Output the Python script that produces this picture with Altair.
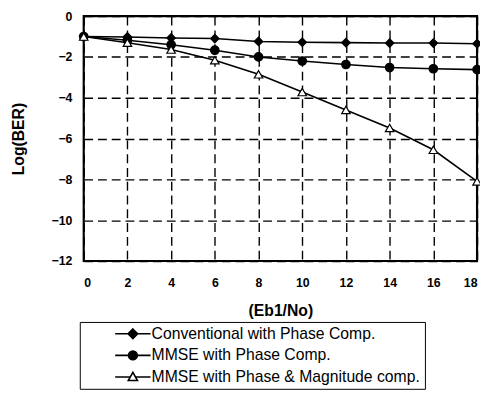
import altair as alt
import pandas as pd

# ---- data ----
ebno = [0, 2, 4, 6, 8, 10, 12, 14, 16, 18]
conventional = [-1.0, -1.02, -1.07, -1.1, -1.24, -1.28, -1.3, -1.32, -1.32, -1.35]
mmse_phase = [-1.0, -1.18, -1.4, -1.67, -2.0, -2.2, -2.37, -2.52, -2.58, -2.62]
mmse_phase_mag = [-1.0, -1.3, -1.64, -2.16, -2.85, -3.72, -4.6, -5.48, -6.55, -8.1]

series_names = [
    "Conventional with Phase Comp.",
    "MMSE with Phase Comp.",
    "MMSE with Phase & Magnitude comp.",
]
x_ticks = [0, 2, 4, 6, 8, 10, 12, 14, 16, 18]
y_ticks = [-12, -10, -8, -6, -4, -2, 0]

rows = []
for name, vals in zip(series_names, [conventional, mmse_phase, mmse_phase_mag]):
    for x, y in zip(ebno, vals):
        rows.append({"ebno": x, "ber": y, "series": name})
df = pd.DataFrame(rows)

FONT = "Liberation Sans, Arial, Helvetica, sans-serif"

x_enc = alt.X(
    "ebno:Q",
    scale=alt.Scale(domain=[0, 18], nice=False, zero=False),
    axis=alt.Axis(values=x_ticks, title="(Eb1/No)", labelPadding=16, titlePadding=14),
)
y_enc = alt.Y(
    "ber:Q",
    scale=alt.Scale(domain=[-12, 0], nice=False),
    axis=alt.Axis(values=y_ticks, title="Log(BER)", labelPadding=12, titlePadding=25),
)

base = alt.Chart(df)

lines = base.mark_line(color="black", strokeWidth=1.6).encode(
    x=x_enc, y=y_enc, detail="series:N"
)

points = base.mark_point(filled=True, stroke="black", strokeWidth=1.2, size=75, opacity=1).encode(
    x=x_enc,
    y=y_enc,
    shape=alt.Shape(
        "series:N",
        scale=alt.Scale(domain=series_names, range=["diamond", "circle", "triangle-up"]),
        legend=None,
    ),
    fill=alt.Fill(
        "series:N",
        scale=alt.Scale(domain=series_names, range=["black", "black", "white"]),
        legend=None,
    ),
)

# legend symbols: a line with the marker in its middle (unit coordinates)
legend_paths = [
    "M-1,0L1,0M0,-0.27L0.27,0L0,0.27L-0.27,0Z",
    "M-1,0L1,0M-0.25,0A0.25,0.25,0,1,1,0.25,0A0.25,0.25,0,1,1,-0.25,0Z",
    "M-1,0L-0.14,0M0.14,0L1,0M0,-0.26L0.26,0.2L-0.26,0.2Z",
]

legend = alt.Legend(
    title=None,
    orient="none",
    legendX=-4,
    legendY=311,
    direction="vertical",
    padding=4,
    strokeColor="black",
    fillColor="white",
    symbolSize=1296,
    symbolStrokeWidth=1.6,
    symbolOpacity=1,
    symbolOffset=31,
    labelOffset=0,
    clipHeight=16,
    rowPadding=6,
    labelFont=FONT,
    labelFontSize=16,
    labelColor="black",
    labelLimit=600,
)

legend_layer = base.mark_point(filled=True, stroke="black", strokeWidth=1.6, opacity=0).encode(
    x=x_enc,
    y=y_enc,
    shape=alt.Shape(
        "series:N",
        scale=alt.Scale(domain=series_names, range=legend_paths),
        legend=legend,
    ),
    fill=alt.Fill(
        "series:N",
        scale=alt.Scale(domain=series_names, range=["black", "black", "white"]),
        legend=legend,
    ),
)

chart = (
    alt.layer(lines, points, legend_layer)
    .resolve_scale(shape="independent", fill="independent")
    .properties(
        width=400,
        height=249,
        background="white",
        autosize=alt.AutoSizeParams(type="none"),
        padding={"left": 77, "top": 5, "right": 3, "bottom": 132},
    )
    .configure_view(stroke="black", strokeWidth=2.2)
    .configure_axis(
        labelFont=FONT,
        labelFontWeight="bold",
        labelFontSize=12.5,
        labelColor="black",
        ticks=False,
        domain=False,
        grid=True,
        gridColor="black",
        gridDash=[9, 5],
        gridWidth=1.4,
        gridOpacity=1,
        titleFont=FONT,
        titleFontWeight="bold",
        titleFontSize=16,
        titleColor="black",
    )
)

chart.save("out.html", embed_options={"renderer": "svg", "actions": False})
